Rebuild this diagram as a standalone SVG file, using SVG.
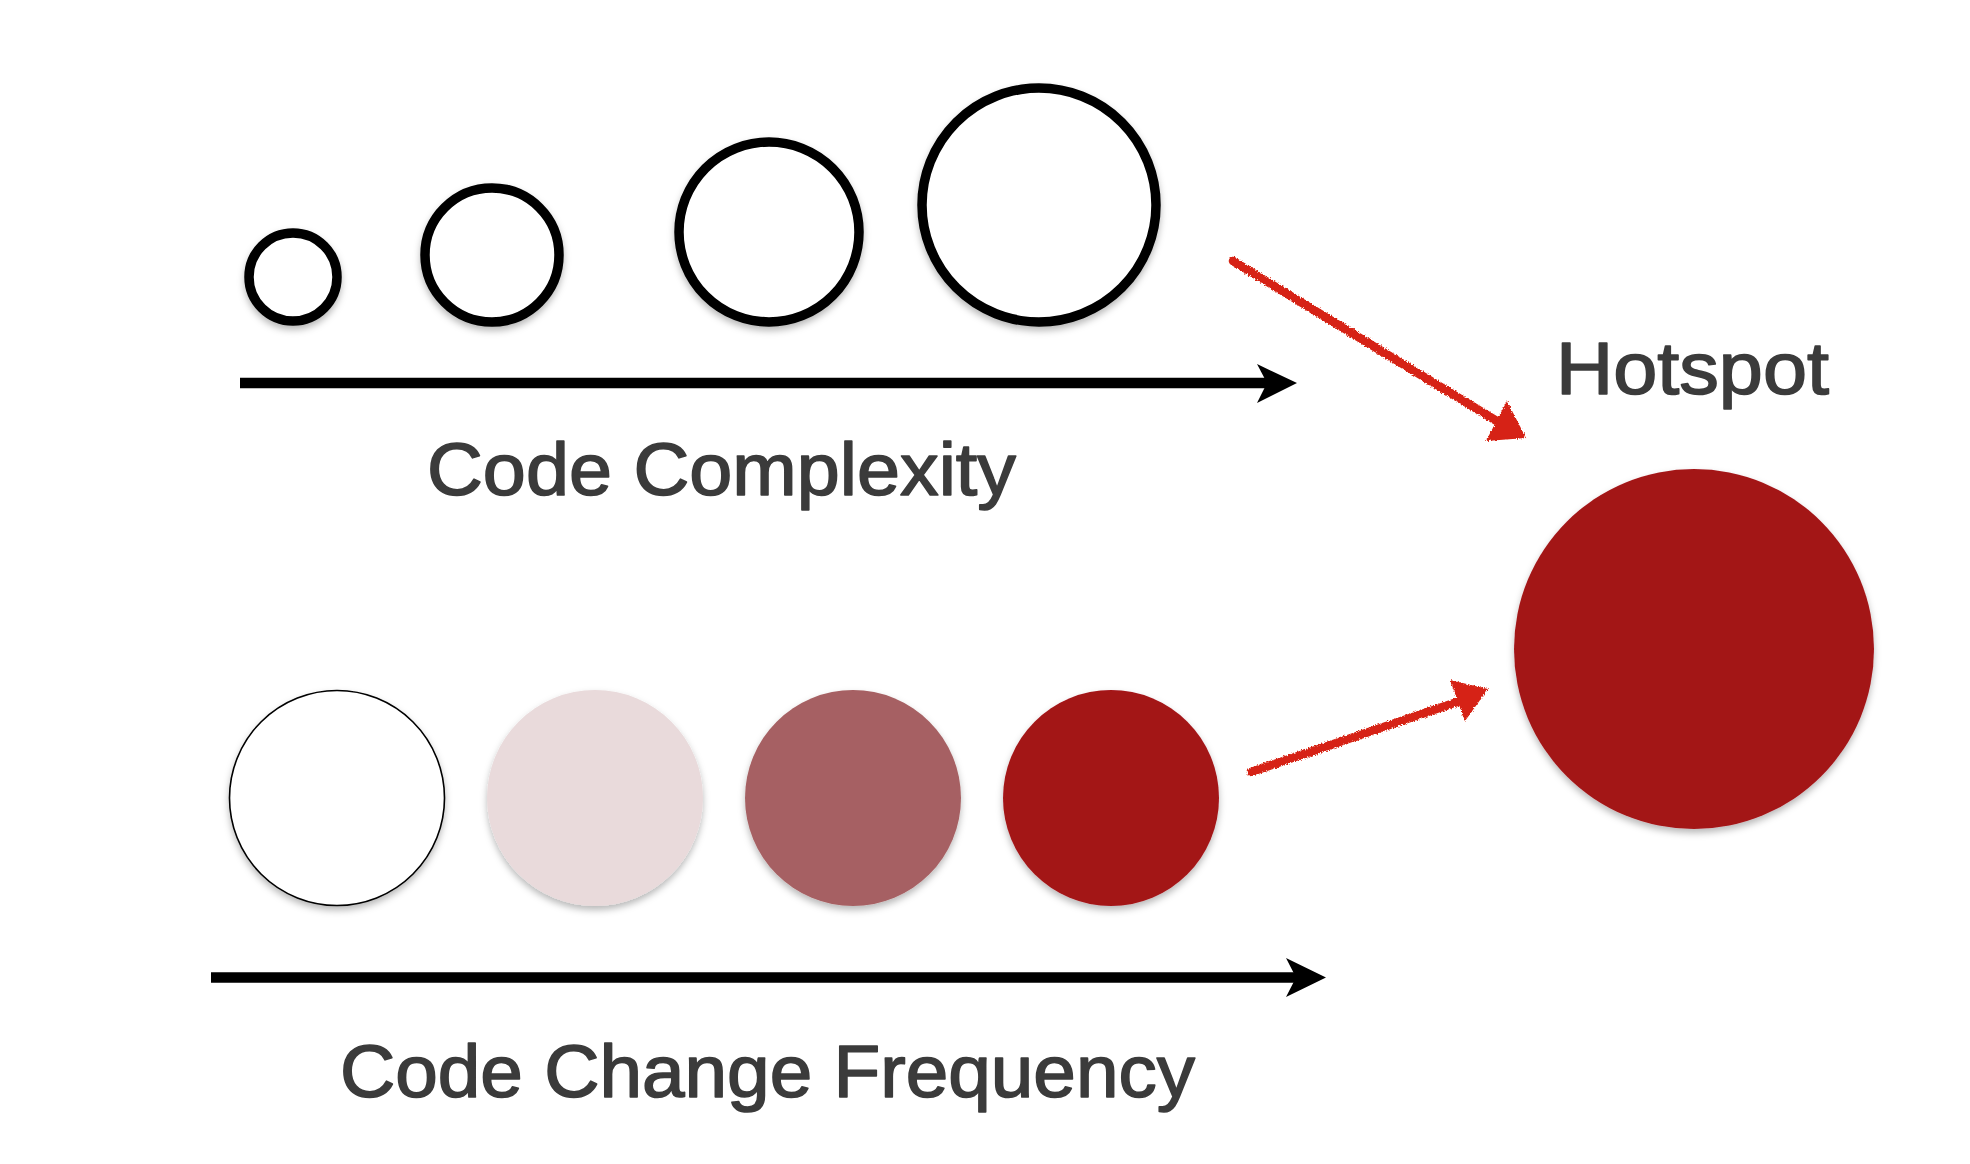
<svg xmlns="http://www.w3.org/2000/svg" width="1970" height="1164" viewBox="0 0 1970 1164">
  <style>
    .lbl { font-family: "Liberation Sans", Arial, Helvetica, sans-serif; font-size: 75px; fill: #3b3b3b; stroke: #3b3b3b; stroke-width: 1.6px; stroke-linejoin: round; }
    .ring { fill: #ffffff; stroke: #000000; stroke-width: 9.5; }
    .axis { stroke: #000000; stroke-width: 10.5; fill: none; }
    .head { fill: #000000; }
    .red { stroke: #d62212; stroke-width: 8.5; fill: none; stroke-linecap: round; }
    .redhead { fill: #d62212; }
  </style>
  <defs>
    <filter id="shadow" x="-20%" y="-20%" width="140%" height="150%">
      <feDropShadow dx="0" dy="4" stdDeviation="3.5" flood-color="#000000" flood-opacity="0.28"/>
    </filter>
    <filter id="rough" x="-10%" y="-10%" width="120%" height="120%">
      <feTurbulence type="fractalNoise" baseFrequency="0.7" numOctaves="2" seed="3" result="n"/>
      <feDisplacementMap in="SourceGraphic" in2="n" scale="4" xChannelSelector="R" yChannelSelector="G"/>
    </filter>
  </defs>
  <rect width="1970" height="1164" fill="#ffffff"/>

  <g id="complexity-1"><circle class="ring" cx="293" cy="277" r="44" filter="url(#shadow)"/></g>
  <g id="complexity-2"><circle class="ring" cx="492" cy="255" r="67" filter="url(#shadow)"/></g>
  <g id="complexity-3"><circle class="ring" cx="769" cy="232" r="90" filter="url(#shadow)"/></g>
  <g id="complexity-4"><circle class="ring" cx="1039" cy="205" r="117" filter="url(#shadow)"/></g>

  <g id="frequency-1"><circle cx="337" cy="798" r="107.5" fill="#ffffff" stroke="#000000" stroke-width="1.6" filter="url(#shadow)"/></g>
  <g id="frequency-2"><circle cx="595" cy="798" r="108" fill="#e9dadb" filter="url(#shadow)"/></g>
  <g id="frequency-3"><circle cx="853" cy="798" r="108" fill="#a66163" filter="url(#shadow)"/></g>
  <g id="frequency-4"><circle cx="1111" cy="798" r="108" fill="#a31419" filter="url(#shadow)"/></g>

  <g id="hotspot"><circle cx="1694" cy="649" r="180" fill="#a31419" filter="url(#shadow)"/></g>

  <g id="labels">
    <text class="lbl" x="427" y="495" textLength="589" lengthAdjust="spacingAndGlyphs">Code Complexity</text>
    <text class="lbl" x="1556" y="394" textLength="273" lengthAdjust="spacingAndGlyphs">Hotspot</text>
    <text class="lbl" x="340" y="1097" textLength="855" lengthAdjust="spacingAndGlyphs">Code Change Frequency</text>
  </g>

  <g id="connectors">
    <line class="axis" x1="240" y1="383" x2="1272" y2="383"/>
    <polygon class="head" points="1297,383 1257,364 1267,383 1257,403"/>
    <line class="axis" x1="211" y1="977.5" x2="1300" y2="977.5"/>
    <polygon class="head" points="1326,977.5 1286,958 1296,977.5 1286,997"/>

    <g filter="url(#rough)">
      <line class="red" x1="1233" y1="261" x2="1500" y2="423"/>
      <polygon class="redhead" points="1507,401 1486,441 1526,438"/>
      <line class="red" x1="1251" y1="772" x2="1460" y2="701"/>
      <polygon class="redhead" points="1450,680 1488,689 1465,721"/>
    </g>
  </g>
</svg>
